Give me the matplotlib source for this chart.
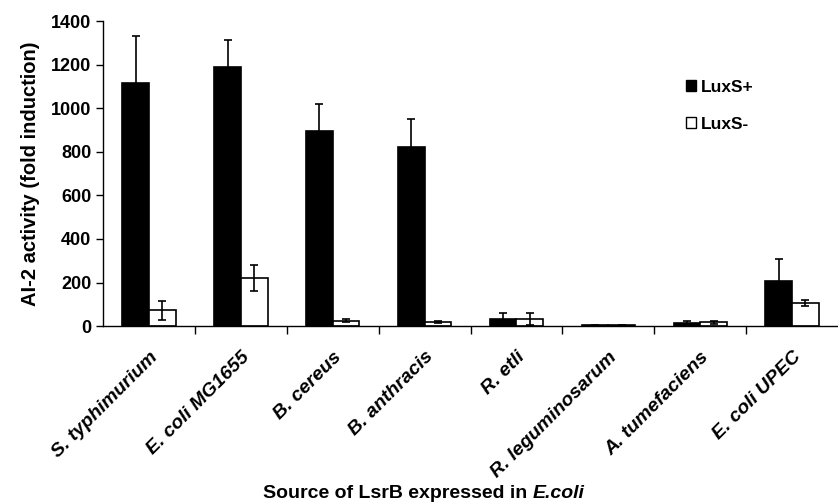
import numpy as np
import matplotlib
matplotlib.use("Agg")
import matplotlib.pyplot as plt
from matplotlib.patches import Patch

plt.rcParams['font.family'] = ['Liberation Sans', 'DejaVu Sans']

# data
bakterid = ["S. typhimurium", "E. coli MG1655", "B. cereus", "B. anthracis",
            "R. etli", "R. leguminosarum", "A. tumefaciens", "E. coli UPEC"]
luxs_pluss = [1115, 1190, 895, 824, 31, 3, 14, 207]
luxs_pluss_viga = [215, 123, 123, 125, 30, 2, 8, 103]
luxs_miinus = [72, 220, 25, 17, 31, 3, 17, 107]
luxs_miinus_viga = [45, 61, 8, 5, 27, 2, 8, 13]

fig = plt.figure(figsize=(8.38, 5.04), dpi=100)
ax = fig.add_axes([0.123, 0.353, 0.877, 0.605])

x = np.arange(len(bakterid))
laius = 0.29
vead = dict(ecolor="black", capsize=3, elinewidth=1.2, capthick=1.2)
ax.bar(x - laius / 2, luxs_pluss, laius, color="black", edgecolor="black", linewidth=1.2,
       yerr=luxs_pluss_viga, error_kw=vead)
ax.bar(x + laius / 2, luxs_miinus, laius, color="white", edgecolor="black", linewidth=1.2,
       yerr=luxs_miinus_viga, error_kw=vead)

ax.set_xlim(-0.5, len(bakterid) - 0.5)
ax.set_ylim(0, 1400)
ax.set_yticks(range(0, 1401, 200))
ax.tick_params(axis="y", labelsize=13, length=5, width=1.0, direction="out")
for t in ax.get_yticklabels():
    t.set_fontweight("bold")

# tick marks between the groups, labels under group centres
ax.set_xticks(np.arange(0.5, len(bakterid) - 0.5, 1))
ax.set_xticks(x, minor=True)
ax.tick_params(axis="x", which="major", length=6, width=1.0, labelbottom=False)
ax.tick_params(axis="x", which="minor", length=0, pad=16)
ax.set_xticklabels(bakterid, minor=True, rotation=45, ha="right", rotation_mode="anchor",
                   fontsize=14, fontweight="bold", fontstyle="italic")

for s in ["top", "right"]:
    ax.spines[s].set_visible(False)
for s in ["left", "bottom"]:
    ax.spines[s].set_linewidth(1.0)

ax.set_ylabel("AI-2 activity (fold induction)", fontsize=14.5, fontweight="bold", labelpad=8)

# x-axis title: plain part plus italic E.coli
t1 = fig.text(263 / 838, 1 - 493 / 504, "Source of LsrB expressed in ", fontsize=14,
              fontweight="bold", ha="left", va="center")
fig.canvas.draw()
bb = t1.get_window_extent()
fig.text(bb.x1 / fig.bbox.width, 1 - 493 / 504, "E.coli", fontsize=14,
         fontweight="bold", fontstyle="italic", ha="left", va="center")

kasted = [Patch(facecolor="black", edgecolor="black"),
          Patch(facecolor="white", edgecolor="black")]
ax.legend(kasted, ["LuxS+", "LuxS-"], loc="upper left", bbox_to_anchor=(0.772, 0.858),
          frameon=False, handlelength=0.6, handleheight=0.6, handletextpad=0.25,
          labelspacing=1.25, prop=dict(size=12.5, weight="bold"))

fig.savefig("out.png", dpi=100)
